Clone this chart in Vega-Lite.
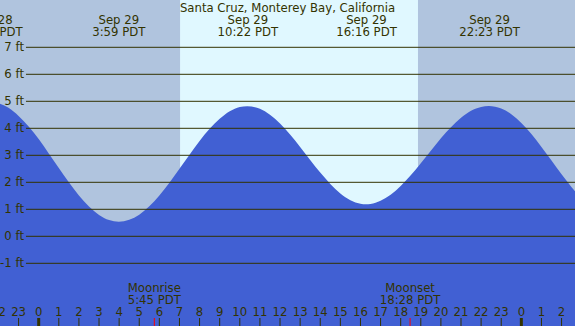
{
  "$schema": "https://vega.github.io/schema/vega-lite/v6.json",
  "width": 575,
  "height": 326,
  "autosize": "none",
  "padding": 0,
  "background": "#B0C4DE",
  "config": {"view": {"stroke": null}, "text": {"font": "DejaVu Sans", "fontSize": 11.7, "color": "#333300"}},
  "datasets": {
    "tide": [
      {"h": -2.5, "ft": 4.96}, {"h": -2.4, "ft": 4.97}, {"h": -2, "ft": 4.93}, {"h": -1.5, "ft": 4.76},
      {"h": -1, "ft": 4.46}, {"h": -0.5, "ft": 4.07}, {"h": 0, "ft": 3.60}, {"h": 0.5, "ft": 3.07},
      {"h": 1, "ft": 2.53}, {"h": 1.5, "ft": 2.00}, {"h": 2, "ft": 1.51}, {"h": 2.5, "ft": 1.10},
      {"h": 3, "ft": 0.79}, {"h": 3.5, "ft": 0.60}, {"h": 3.983, "ft": 0.54}, {"h": 4.5, "ft": 0.61},
      {"h": 5, "ft": 0.80}, {"h": 5.5, "ft": 1.11}, {"h": 6, "ft": 1.51}, {"h": 6.5, "ft": 1.98},
      {"h": 7, "ft": 2.50}, {"h": 7.5, "ft": 3.02}, {"h": 8, "ft": 3.53}, {"h": 8.5, "ft": 3.98},
      {"h": 9, "ft": 4.35}, {"h": 9.5, "ft": 4.63}, {"h": 10, "ft": 4.79}, {"h": 10.367, "ft": 4.82},
      {"h": 11, "ft": 4.72}, {"h": 11.5, "ft": 4.50}, {"h": 12, "ft": 4.18}, {"h": 12.5, "ft": 3.77},
      {"h": 13, "ft": 3.31}, {"h": 13.5, "ft": 2.83}, {"h": 14, "ft": 2.36}, {"h": 14.5, "ft": 1.94},
      {"h": 15, "ft": 1.59}, {"h": 15.5, "ft": 1.34}, {"h": 16, "ft": 1.21}, {"h": 16.267, "ft": 1.19},
      {"h": 16.5, "ft": 1.20}, {"h": 17, "ft": 1.32}, {"h": 17.5, "ft": 1.54}, {"h": 18, "ft": 1.86},
      {"h": 18.5, "ft": 2.26}, {"h": 19, "ft": 2.71}, {"h": 19.5, "ft": 3.17}, {"h": 20, "ft": 3.63},
      {"h": 20.5, "ft": 4.04}, {"h": 21, "ft": 4.39}, {"h": 21.5, "ft": 4.65}, {"h": 22, "ft": 4.79},
      {"h": 22.383, "ft": 4.83}, {"h": 23, "ft": 4.73}, {"h": 23.5, "ft": 4.52}, {"h": 24, "ft": 4.20},
      {"h": 24.5, "ft": 3.79}, {"h": 25, "ft": 3.31}, {"h": 25.5, "ft": 2.81}, {"h": 26, "ft": 2.30},
      {"h": 26.5, "ft": 1.82}, {"h": 27, "ft": 1.39}
    ],
    "levels": [
      {"ft": -1, "label": "-1 ft"}, {"ft": 0, "label": "0 ft"}, {"ft": 1, "label": "1 ft"},
      {"ft": 2, "label": "2 ft"}, {"ft": 3, "label": "3 ft"}, {"ft": 4, "label": "4 ft"},
      {"ft": 5, "label": "5 ft"}, {"ft": 6, "label": "6 ft"}, {"ft": 7, "label": "7 ft"}
    ],
    "hours": [
      {"h": -2, "label": "22"}, {"h": -1, "label": "23"}, {"h": 0, "label": "0"}, {"h": 1, "label": "1"},
      {"h": 2, "label": "2"}, {"h": 3, "label": "3"}, {"h": 4, "label": "4"}, {"h": 5, "label": "5"},
      {"h": 6, "label": "6"}, {"h": 7, "label": "7"}, {"h": 8, "label": "8"}, {"h": 9, "label": "9"},
      {"h": 10, "label": "10"}, {"h": 11, "label": "11"}, {"h": 12, "label": "12"}, {"h": 13, "label": "13"},
      {"h": 14, "label": "14"}, {"h": 15, "label": "15"}, {"h": 16, "label": "16"}, {"h": 17, "label": "17"},
      {"h": 18, "label": "18"}, {"h": 19, "label": "19"}, {"h": 20, "label": "20"}, {"h": 21, "label": "21"},
      {"h": 22, "label": "22"}, {"h": 23, "label": "23"}, {"h": 24, "label": "0"}, {"h": 25, "label": "1"},
      {"h": 26, "label": "2"}
    ],
    "extremes": [
      {"h": -2.3, "date": "Sep 28", "time": "21:42 PDT"},
      {"h": 3.983, "date": "Sep 29", "time": "3:59 PDT"},
      {"h": 10.4, "date": "Sep 29", "time": "10:22 PDT"},
      {"h": 16.3, "date": "Sep 29", "time": "16:16 PDT"},
      {"h": 22.42, "date": "Sep 29", "time": "22:23 PDT"}
    ],
    "moon": [
      {"h": 5.75, "name": "Moonrise", "time": "5:45 PDT"},
      {"h": 18.467, "name": "Moonset", "time": "18:28 PDT"}
    ],
    "daylight": [
      {"start": 7.03, "end": 18.86, "name": "day"}
    ]
  },
  "layer": [
    {
      "data": {"name": "daylight"},
      "mark": {"type": "rect", "color": "#E0F8FF"},
      "encoding": {
        "x": {"field": "start", "type": "quantitative", "axis": null, "scale": {"domain": [-1.924, 26.668], "nice": false, "zero": false}},
        "x2": {"field": "end"},
        "y": {"datum": 9, "type": "quantitative", "axis": null, "scale": {"domain": [-3.322, 8.752], "nice": false, "zero": false}},
        "y2": {"datum": -4}
      }
    },
    {
      "data": {"name": "tide"},
      "mark": {"type": "area", "color": "#4160D3", "interpolate": "monotone"},
      "encoding": {
        "x": {"field": "h", "type": "quantitative", "axis": null, "scale": {"domain": [-1.924, 26.668], "nice": false, "zero": false}},
        "y": {"field": "ft", "type": "quantitative", "axis": null, "scale": {"domain": [-3.322, 8.752], "nice": false, "zero": false}},
        "y2": {"datum": -4}
      }
    },
    {
      "data": {"name": "levels"},
      "mark": {"type": "rule", "color": "#333300", "strokeWidth": 1},
      "encoding": {
        "x": {"datum": -0.632, "type": "quantitative", "axis": null, "scale": {"domain": [-1.924, 26.668], "nice": false, "zero": false}},
        "x2": {"datum": 27},
        "y": {"field": "ft", "type": "quantitative", "axis": null, "scale": {"domain": [-3.322, 8.752], "nice": false, "zero": false}}
      }
    },
    {
      "data": {"name": "levels"},
      "mark": {"type": "text", "align": "right", "baseline": "middle"},
      "encoding": {
        "x": {"datum": -0.731, "type": "quantitative", "axis": null, "scale": {"domain": [-1.924, 26.668], "nice": false, "zero": false}},
        "y": {"field": "ft", "type": "quantitative", "axis": null, "scale": {"domain": [-3.322, 8.752], "nice": false, "zero": false}},
        "text": {"field": "label"}
      }
    },
    {
      "data": {"name": "hours"},
      "mark": {"type": "rule", "color": "#333300"},
      "encoding": {
        "x": {"field": "h", "type": "quantitative", "axis": null, "scale": {"domain": [-1.924, 26.668], "nice": false, "zero": false}},
        "y": {"datum": -3.026, "type": "quantitative", "axis": null, "scale": {"domain": [-3.322, 8.752], "nice": false, "zero": false}},
        "y2": {"datum": -3.5},
        "strokeWidth": {"condition": {"test": "datum.label === '0'", "value": 3}, "value": 1}
      }
    },
    {
      "data": {"name": "hours"},
      "mark": {"type": "text", "align": "center", "baseline": "alphabetic"},
      "encoding": {
        "x": {"field": "h", "type": "quantitative", "axis": null, "scale": {"domain": [-1.924, 26.668], "nice": false, "zero": false}},
        "y": {"datum": -2.941, "type": "quantitative", "axis": null, "scale": {"domain": [-3.322, 8.752], "nice": false, "zero": false}},
        "text": {"field": "label"}
      }
    },
    {
      "data": {"name": "moon"},
      "mark": {"type": "rule", "color": "#FF0000", "strokeWidth": 1},
      "encoding": {
        "x": {"field": "h", "type": "quantitative", "axis": null, "scale": {"domain": [-1.924, 26.668], "nice": false, "zero": false}},
        "y": {"datum": -3.026, "type": "quantitative", "axis": null, "scale": {"domain": [-3.322, 8.752], "nice": false, "zero": false}},
        "y2": {"datum": -3.5}
      }
    },
    {
      "data": {"name": "moon"},
      "mark": {"type": "text", "align": "center", "baseline": "alphabetic"},
      "encoding": {
        "x": {"field": "h", "type": "quantitative", "axis": null, "scale": {"domain": [-1.924, 26.668], "nice": false, "zero": false}},
        "y": {"datum": -2.052, "type": "quantitative", "axis": null, "scale": {"domain": [-3.322, 8.752], "nice": false, "zero": false}},
        "text": {"field": "name"}
      }
    },
    {
      "data": {"name": "moon"},
      "mark": {"type": "text", "align": "center", "baseline": "alphabetic"},
      "encoding": {
        "x": {"field": "h", "type": "quantitative", "axis": null, "scale": {"domain": [-1.924, 26.668], "nice": false, "zero": false}},
        "y": {"datum": -2.507, "type": "quantitative", "axis": null, "scale": {"domain": [-3.322, 8.752], "nice": false, "zero": false}},
        "text": {"field": "time"}
      }
    },
    {
      "data": {"name": "extremes"},
      "mark": {"type": "text", "align": "center", "baseline": "alphabetic"},
      "encoding": {
        "x": {"field": "h", "type": "quantitative", "axis": null, "scale": {"domain": [-1.924, 26.668], "nice": false, "zero": false}},
        "y": {"datum": 7.863, "type": "quantitative", "axis": null, "scale": {"domain": [-3.322, 8.752], "nice": false, "zero": false}},
        "text": {"field": "date"}
      }
    },
    {
      "data": {"name": "extremes"},
      "mark": {"type": "text", "align": "center", "baseline": "alphabetic"},
      "encoding": {
        "x": {"field": "h", "type": "quantitative", "axis": null, "scale": {"domain": [-1.924, 26.668], "nice": false, "zero": false}},
        "y": {"datum": 7.419, "type": "quantitative", "axis": null, "scale": {"domain": [-3.322, 8.752], "nice": false, "zero": false}},
        "text": {"field": "time"}
      }
    },
    {
      "data": {"values": [{"title": "Santa Cruz, Monterey Bay, California"}]},
      "mark": {"type": "text", "align": "center", "baseline": "alphabetic"},
      "encoding": {
        "x": {"datum": 12.372, "type": "quantitative", "axis": null, "scale": {"domain": [-1.924, 26.668], "nice": false, "zero": false}},
        "y": {"datum": 8.307, "type": "quantitative", "axis": null, "scale": {"domain": [-3.322, 8.752], "nice": false, "zero": false}},
        "text": {"field": "title"}
      }
    }
  ]
}
